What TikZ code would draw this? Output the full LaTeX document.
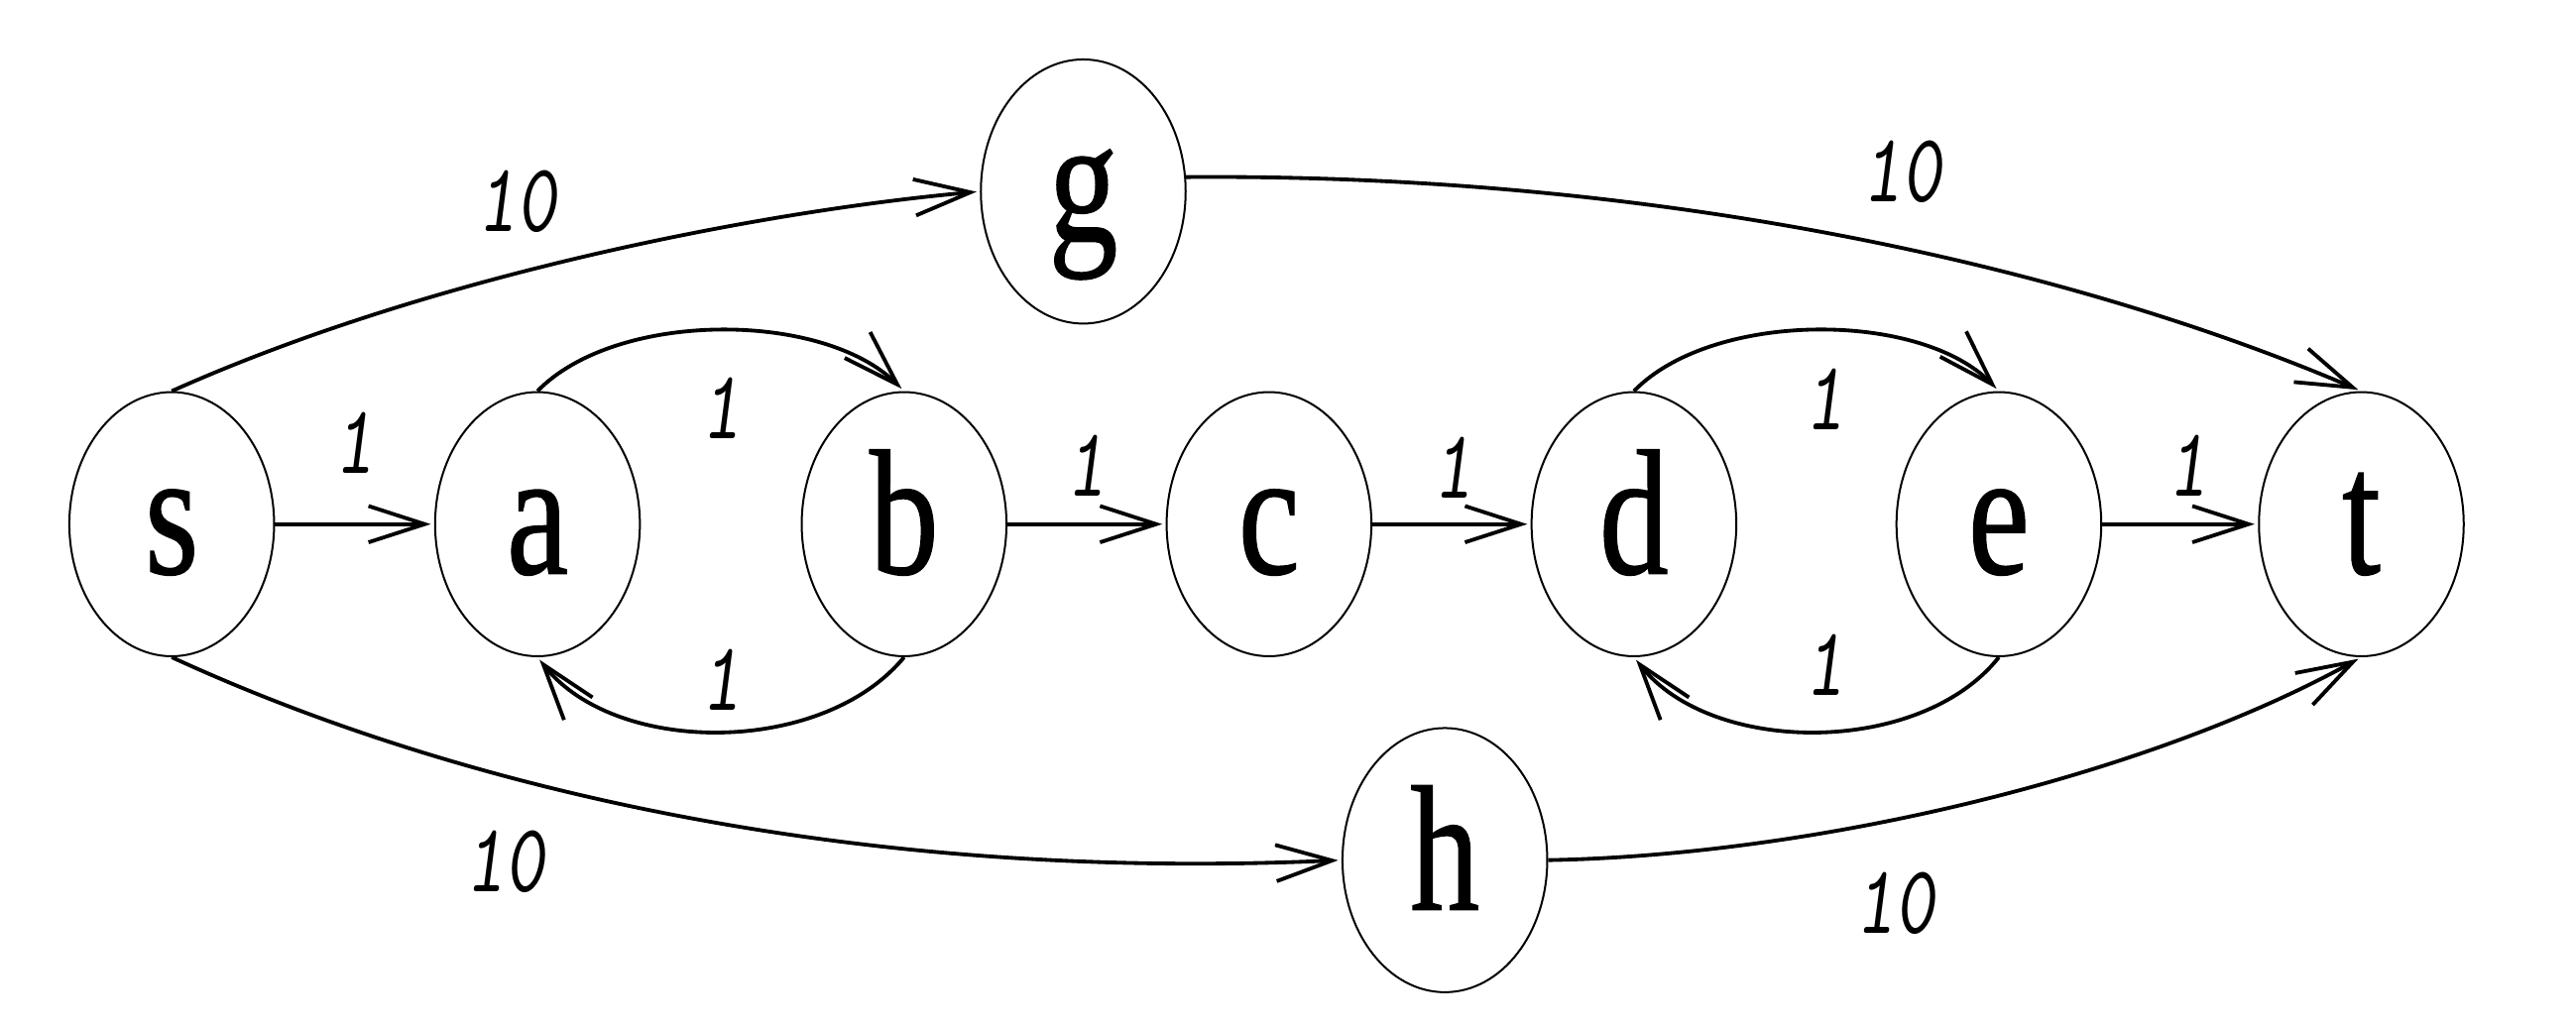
\documentclass[tikz,border=0pt]{standalone}
\usepackage{graphicx}
\usepackage{fontspec}
\newfontfamily\nodefont[FakeBold=0.8]{Liberation Serif}
\usetikzlibrary{arrows.meta,shapes.geometric}
\newcommand{\vst}[1]{\scalebox{1}[1.29]{#1}}
\newcommand{\ltr}[1]{\raisebox{-15pt}[0pt][0pt]{\scalebox{1}[1.29]{#1}}}
\begin{document}
\begin{tikzpicture}[x=0.5pt,y=0.5pt,
  vertex/.style={draw, ellipse, line width=0.6pt, minimum width=62pt, minimum height=80pt, inner sep=0pt, font=\nodefont\fontsize{42}{42}\selectfont},
  edge/.style={line width=1.15pt, shorten >=1pt, -{Straight Barb[length=17pt,width=11pt]}},
  wt/.style={font=\ttfamily\slshape\fontsize{23}{23}\selectfont, inner sep=0pt}]
\useasboundingbox (0,0) rectangle (1560,622);
\node[vertex] (s) at (104,304.5) {\ltr{s}};
\node[vertex] (a) at (325.5,304.5) {\ltr{a}};
\node[vertex] (b) at (547.5,304.5) {\ltr{b}};
\node[vertex] (c) at (768.5,304.5) {\ltr{c}};
\node[vertex] (d) at (989.5,304.5) {\ltr{d}};
\node[vertex] (e) at (1210.5,304.5) {\ltr{e}};
\node[vertex] (t) at (1430,304.5) {\ltr{t}};
\node[vertex] (g) at (656,506) {\ltr{g}};
\node[vertex] (h) at (875,101) {\ltr{h}};
\draw[edge] (s.north) .. controls (260,455) and (460,494) .. (g.west);
\draw[edge] (g.8) .. controls (1000,517) and (1250,462) .. (t.north);
\draw[edge] (s.south) .. controls (260,152) and (500,87) .. (h.west);
\draw[edge] (h.east) .. controls (1100,104) and (1300,152) .. (t.south);
\draw[edge] (a.north) .. controls (373,434) and (498,434) .. (b.north);
\draw[edge] (b.south) .. controls (498,164) and (373,164) .. (a.south);
\draw[edge] (d.north) .. controls (1037,434) and (1163,434) .. (e.north);
\draw[edge] (e.south) .. controls (1163,164) and (1037,164) .. (d.south);
\draw[edge] (s) -- (a);
\draw[edge] (b) -- (c);
\draw[edge] (c) -- (d);
\draw[edge] (e) -- (t);
\node[wt] (w1) at (313,500) {\vst{10}};
\node[wt] (w2) at (215,354) {\vst{1}};
\node[wt] (w3) at (437,375) {\vst{1}};
\node[wt] (w4) at (437,210) {\vst{1}};
\node[wt] (w5) at (658,340) {\vst{1}};
\node[wt] (w6) at (880,339) {\vst{1}};
\node[wt] (w7) at (1105,380) {\vst{1}};
\node[wt] (w8) at (1105,219) {\vst{1}};
\node[wt] (w9) at (1325,340) {\vst{1}};
\node[wt] (w10) at (1152,518) {\vst{10}};
\node[wt] (w11) at (306,100) {\vst{10}};
\node[wt] (w12) at (1148,75) {\vst{10}};
\end{tikzpicture}
\end{document}
